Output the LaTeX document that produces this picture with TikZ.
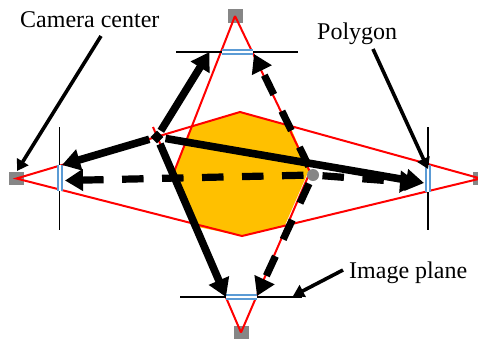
\documentclass[tikz,border=0pt]{standalone}
\usepackage{fontspec}
\setmainfont{Liberation Serif}
\usetikzlibrary{arrows.meta,shapes.geometric}
\definecolor{polyfill}{HTML}{FFC000}
\definecolor{planeblue}{HTML}{5B9BD5}
\tikzset{
    cam/.style={fill=gray!95, rectangle, inner sep=0, minimum width=15, minimum height=13.5},
    ray/.style={red, line width=2},
    plane/.style={black, line width=1.4},
    solidarrow/.style={line width=7.6, -{Triangle[length=18, width=21]}},
    dasharrow/.style={line width=7.2, dash pattern=on 21.5 off 18.5, -{Triangle[length=18, width=21]}},
    labelarrow/.style={line width=3.6, -{Triangle[length=11, width=13]}},
    labeltext/.style={font=\fontsize{24}{26}\selectfont, inner sep=0, anchor=base west}
}
\begin{document}
\begin{tikzpicture}[x=1pt, y=-1pt]
    \useasboundingbox (0,0) rectangle (478,338);

    % polygon
    \fill[polyfill] (240,112) -- (290,126) -- (309,170) -- (285,225) -- (242,236) -- (198,227) -- (174,172) -- (192,126) -- cycle;

    % cameras
    \node[cam] (camtop) at (235,16) {};
    \node[cam] (camleft) at (16.5,178.5) {};
    \node[cam] (camright) at (480.5,178.5) {};
    \node[cam] (cambottom) at (241,332.5) {};

    % rays
    \coordinate (vistop) at (240,112);
    \coordinate (visbottom) at (242,236);
    \coordinate (polyleft) at (174,172);
    \coordinate (polyright) at (310,172);
    \coordinate (rayend) at (153,127);
    \draw[ray] (camleft.center) -- (vistop) -- (camright.center) -- (visbottom) -- cycle;
    \draw[ray] (camtop.center) -- (polyleft);
    \draw[ray] (cambottom.center) -- (rayend);
    \draw[ray] (camtop.center) -- (polyright) -- (cambottom.center);

    % image planes
    \draw[plane] (176,52) coordinate (ptl) -- (298,52) coordinate (ptr);
    \draw[plane] (180,297) coordinate (pbl) -- (302,297) coordinate (pbr);
    \draw[plane] (59.5,127) coordinate (pll) -- (59.5,230) coordinate (plr);
    \draw[plane] (428,127) coordinate (prl) -- (428,230) coordinate (prr);
    \foreach \a/\b in {{222,52}/{253,52}, {226,297}/{257,297}, {60,165}/{60,191}, {428,165}/{428,192}} {
        \draw[planeblue, line width=5.4] (\a) -- (\b);
        \draw[white, line width=1.6] (\a) -- (\b);
    }

    % points
    \node[diamond, fill=black, inner sep=0, minimum size=15, outer sep=2.5] (visible) at (157,137) {};
    \node[circle, fill=gray!95, inner sep=0, minimum size=12, outer sep=3.5] (hidden) at (313,175) {};

    % projections
    \foreach \n/\p in {tipt/{209.5,52}, tipl/{62,165}, tipb/{226,297}, tipr/{424,183}}
        \coordinate (\n) at (\p);
    \foreach \n/\p in {dipt/{254,54}, dipl/{65,180.5}, dipb/{257,296}, dipr/{418,183}}
        \coordinate (\n) at (\p);
    \foreach \n in {tipt,tipl,tipb,tipr}
        \draw[solidarrow] (visible) -- (\n);
    \foreach \n in {dipt,dipl,dipb,dipr}
        \draw[dasharrow] (hidden) -- (\n);

    % labels
    \node[labeltext] (lblcam) at (20,27) {Camera center};
    \node[labeltext] (lblpoly) at (317,39) {Polygon};
    \node[labeltext] (lblplane) at (349,278) {Image plane};
    \coordinate (fromcam) at (101,36);
    \coordinate (frompoly) at (373,49);
    \coordinate (fromplane) at (343,270);
    \coordinate (tocam) at (17,171);
    \coordinate (topoly) at (428,169);
    \coordinate (toplane) at (293,296);
    \draw[labelarrow] (fromcam) -- (tocam);
    \draw[labelarrow] (frompoly) -- (topoly);
    \draw[labelarrow] (fromplane) -- (toplane);
\end{tikzpicture}
\end{document}
